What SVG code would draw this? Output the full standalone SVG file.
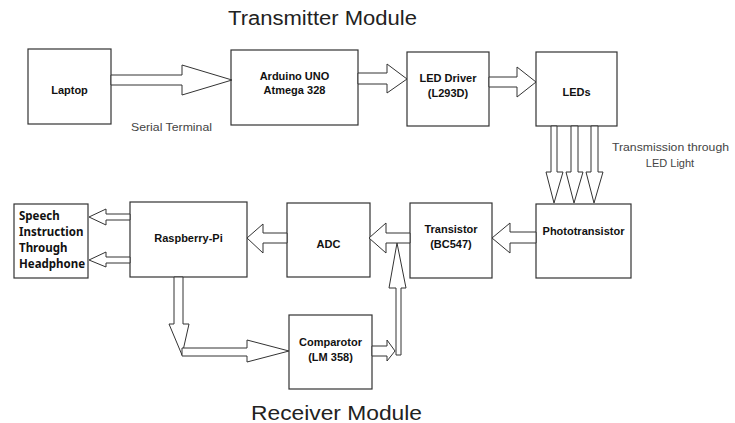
<svg xmlns="http://www.w3.org/2000/svg" width="735" height="423" viewBox="0 0 735 423">
<style>
.box{fill:#fff;stroke:#333;stroke-width:1.2}
.arr{fill:#fff;stroke:#333;stroke-width:1;stroke-linejoin:miter}
.lbl{font-family:"Liberation Sans",Arial,sans-serif;font-weight:bold;font-size:11px;fill:#111;text-anchor:middle}
.sp{font-family:"Noto Sans","Liberation Sans",sans-serif;font-weight:bold;font-size:11.5px;fill:#111}
.note{font-family:"Liberation Sans",Arial,sans-serif;font-size:11px;fill:#444}
.title{font-family:"Liberation Sans",Arial,sans-serif;font-size:20px;fill:#222}
</style>
<rect width="735" height="423" fill="#fff"/>
<text class="title" x="228" y="25" textLength="189" lengthAdjust="spacingAndGlyphs">Transmitter Module</text>
<text class="title" x="251" y="420" textLength="171" lengthAdjust="spacingAndGlyphs">Receiver Module</text>
<text class="note" x="131" y="131" textLength="81" lengthAdjust="spacingAndGlyphs">Serial Terminal</text>
<text class="note" x="612" y="151" textLength="117" lengthAdjust="spacingAndGlyphs">Transmission through</text>
<text class="note" x="670" y="167" text-anchor="middle">LED Light</text>

<g id="laptop"><rect class="box" x="28" y="49" width="83" height="75"/><text class="lbl" x="69.5" y="94">Laptop</text></g>
<g id="arduino"><rect class="box" x="231" y="50" width="127" height="75"/><text class="lbl" x="294.5" y="80">Arduino UNO</text><text class="lbl" x="294.5" y="94">Atmega 328</text></g>
<g id="leddriver"><rect class="box" x="407" y="52" width="82" height="74"/><text class="lbl" x="448" y="82">LED Driver</text><text class="lbl" x="448" y="97">(L293D)</text></g>
<g id="leds"><rect class="box" x="536" y="52" width="81" height="74"/><text class="lbl" x="576.5" y="96">LEDs</text></g>
<g id="phototransistor"><rect class="box" x="536" y="204" width="95" height="74"/><text class="lbl" x="583.5" y="235">Phototransistor</text></g>
<g id="transistor"><rect class="box" x="410" y="203" width="82" height="75"/><text class="lbl" x="451" y="233">Transistor</text><text class="lbl" x="451" y="248">(BC547)</text></g>
<g id="adc"><rect class="box" x="287" y="203" width="83" height="74"/><text class="lbl" x="328.5" y="248">ADC</text></g>
<g id="raspberrypi"><rect class="box" x="130" y="202" width="117" height="75"/><text class="lbl" x="188.5" y="242">Raspberry-Pi</text></g>
<g id="speech"><rect class="box" x="14" y="204" width="74" height="74"/><text class="sp" x="19" y="220">Speech</text><text class="sp" x="19" y="236">Instruction</text><text class="sp" x="19" y="252">Through</text><text class="sp" x="19" y="268">Headphone</text></g>
<g id="comparator"><rect class="box" x="289" y="315" width="83" height="74"/><text class="lbl" x="330.5" y="346">Comparotor</text><text class="lbl" x="330.5" y="361">(LM 358)</text></g>

<g id="connectors">
<polygon class="arr" points="111,75 182,75 182,65 232,80 182,95 182,85 111,85"/>
<polygon class="arr" points="358,73 387,73 387,64 407,79 387,93 387,84 358,84"/>
<polygon class="arr" points="489,77 517,77 517,67 536,82 517,97 517,87 489,87"/>
<polygon class="arr" points="551,126 557,126 557,172 563,172 554,203 546,172 551,172"/>
<polygon class="arr" points="571,126 578,126 578,172 583,172 574,203 566,172 571,172"/>
<polygon class="arr" points="591,126 598,126 598,172 603,172 594,203 586,172 591,172"/>
<polygon class="arr" points="536,232 510,232 510,223 492,238 510,253 510,243 536,243"/>
<polygon class="arr" points="410,233 386,233 386,223 369,238 386,253 386,243 410,243"/>
<polygon class="arr" points="287,233 263,233 263,224 247,238 263,253 263,243 287,243"/>
<polygon class="arr" points="130,214 106,214 106,209 89,217 106,225 106,220 130,220"/>
<polygon class="arr" points="130,257 106,257 106,252 89,260 106,267 106,263 130,263"/>
<polygon class="arr" points="174,277 183,277 183,324 189,324 182,355 169,324 174,324"/>
<polygon class="arr" points="182,348 247,348 247,340 289,351 247,362 247,356 182,356"/>
<polygon class="arr" points="372,346 387,346 387,340 395,351 387,361 387,356 372,356"/>
<polygon class="arr" points="396,355 396,288 389,288 397,243 406,288 401,288 401,355"/>
</g>
</svg>
